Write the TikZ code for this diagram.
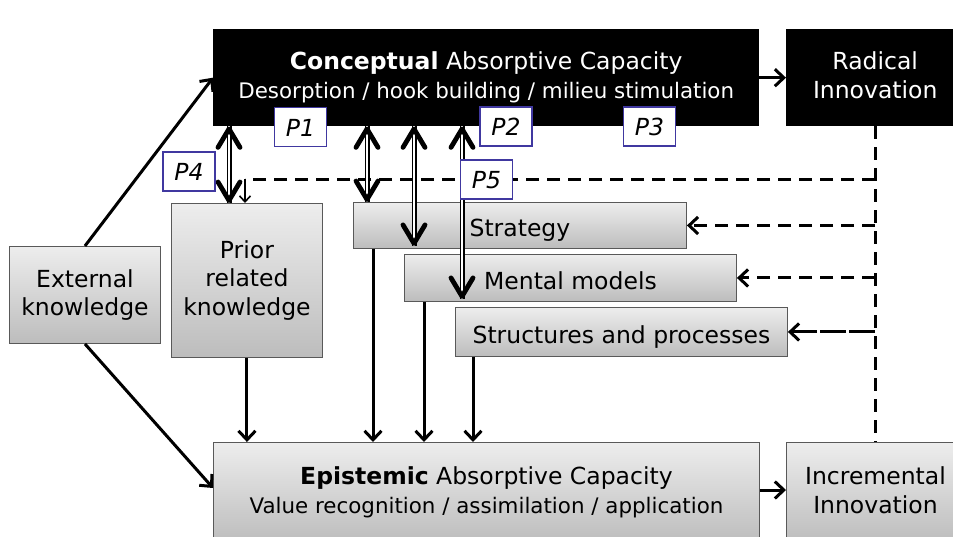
\documentclass[tikz,border=0pt]{standalone}
\usepackage{fontspec}
\setmainfont{DejaVu Sans}
\usetikzlibrary{arrows.meta,calc}
\definecolor{pblue}{RGB}{64,56,160}
\newcommand\pstr{\rule[-0.21em]{0pt}{1.21em}}
\newcommand\pstrtop{\rule[-0.21em]{0pt}{\dimexpr1.21em+4.5pt\relax}}
\newcommand\subline{\fontsize{21.4}{29}\selectfont}
\begin{document}
\begin{tikzpicture}[x=1pt,y=-1pt,
  base/.style={inner sep=0pt, align=center, anchor=north west, font=\fontsize{23.5}{28.5}\selectfont, execute at begin node=\pstrtop, execute at end node=\pstr},
  gbox/.style={base, draw=black!65, line width=0.9pt, top color=black!7, bottom color=black!26},
  kbox/.style={base, fill=black, text=white},
  pbox/.style={draw=pblue, line width=1.6pt, fill=white, minimum width=52pt, minimum height=39pt, inner sep=0pt, font=\fontsize{23.5}{28}\selectfont\itshape, execute at begin node=\pstr, execute at end node=\pstr},
  sarrow/.style={line width=3pt, -{Straight Barb[length=9pt,width=17pt,line width=3pt]}},
  tarrow/.style={line width=1.6pt, -{Straight Barb[length=6pt,width=11pt,line width=1.6pt]}},
  darrow/.style={sarrow, dash pattern=on 13pt off 8pt},
  larrow/.style={sarrow, dash pattern=on 26pt off 3pt},
  dline/.style={line width=3pt, dash pattern=on 13pt off 8pt},
  dbl/.style={double, double distance=2.6pt, line width=1.2pt},
  barbline/.style={line width=4.8pt, line cap=round, line join=round},
  barbup/.pic={\draw[barbline] (-11,21) -- (0,2.5) -- (11,21);},
  barbdown/.pic={\draw[barbline] (-11,-21) -- (0,-2.5) -- (11,-21);},
]
\useasboundingbox (0,0) rectangle (953,536);

% boxes
\node[kbox, minimum width=546pt, minimum height=97pt] (conc) at (213,29) {\textbf{Conceptual} Absorptive Capacity\\{\subline Desorption / hook building / milieu stimulation}};
\node[kbox, minimum width=178pt, minimum height=97pt] (rad) at (786,29) {Radical\\Innovation};
\node[gbox, minimum width=151pt, minimum height=97pt] (ext) at (9,246) {External\\knowledge};
\node[gbox, minimum width=151pt, minimum height=154pt] (prior) at (171,203) {Prior\\related\\knowledge};
\node[gbox, minimum width=333pt, minimum height=46pt] (strat) at (353,202) {Strategy};
\node[gbox, minimum width=332pt, minimum height=47pt] (mental) at (404,254) {Mental models};
\node[gbox, minimum width=332pt, minimum height=49pt] (struct) at (455,307) {Structures and processes};
\node[gbox, minimum width=546pt, minimum height=100pt] (epi) at (213,442) {\textbf{Epistemic} Absorptive Capacity\\{\subline Value recognition / assimilation / application}};
\node[gbox, minimum width=178pt, minimum height=100pt] (inc) at (786,442) {Incremental\\Innovation};

% helper coordinates
\coordinate (fbx) at (875,0);
\coordinate (fby) at (0,179);
\coordinate (pdx) at (245,0);
\coordinate (d1) at (229,0);
\coordinate (d2) at (367,0);
\coordinate (d3) at (414,0);
\coordinate (d4) at (462,0);
\coordinate (sa) at (373,0);
\coordinate (ma) at (424,0);
\coordinate (ta) at (473,0);

% dashed feedback
\draw[dline] (fbx |- rad.south) -- (fbx |- inc.north);
\draw[dline] (fbx |- fby) -- (pdx |- fby);
\draw[tarrow] (pdx |- fby) -- (pdx |- prior.north);
\draw[darrow] (fbx |- strat.east) -- (strat.east);
\draw[darrow] (fbx |- mental.east) -- (mental.east);
\draw[larrow] (fbx |- struct.east) -- (struct.east);

% solid arrows
\draw[sarrow] (ext.north) -- (conc.west);
\draw[sarrow] (ext.south) -- ($(epi.north west)+(0,46)$);
\draw[sarrow] (conc.east) -- (rad.west);
\draw[sarrow] ($(epi.north east)+(0,48)$) -- ($(inc.north west)+(0,48)$);
\draw[sarrow] (prior.south) -- (prior.south |- epi.north);
\draw[sarrow] (sa |- strat.south) -- (sa |- epi.north);
\draw[sarrow] (ma |- mental.south) -- (ma |- epi.north);
\draw[sarrow] (ta |- struct.south) -- (ta |- epi.north);

% double arrows
\draw[dbl] (d1 |- conc.south) -- (d1 |- prior.north);
\pic at (d1 |- conc.south) {barbup};
\pic at (d1 |- prior.north) {barbdown};
\draw[dbl] (d2 |- conc.south) -- (d2 |- strat.north);
\pic at (d2 |- conc.south) {barbup};
\pic at (d2 |- strat.north) {barbdown};
\coordinate (d3e) at ($(d3 |- strat.south)+(0,-3)$);
\draw[dbl] (d3 |- conc.south) -- (d3e);
\pic at (d3 |- conc.south) {barbup};
\pic at (d3e) {barbdown};
\coordinate (d4e) at ($(d4 |- mental.south)+(0,-3)$);
\draw[dbl] (d4 |- conc.south) -- (d4e);
\pic at (d4 |- conc.south) {barbup};
\pic at (d4e) {barbdown};

% proposition labels
\node[pbox] (p1) at (300.5,127) {P1};
\node[pbox] (p2) at (506,126.5) {P2};
\node[pbox] (p3) at (649.5,126.5) {P3};
\node[pbox] (p4) at (189,171.5) {P4};
\node[pbox] (p5) at (486.5,179.5) {P5};
\end{tikzpicture}
\end{document}
